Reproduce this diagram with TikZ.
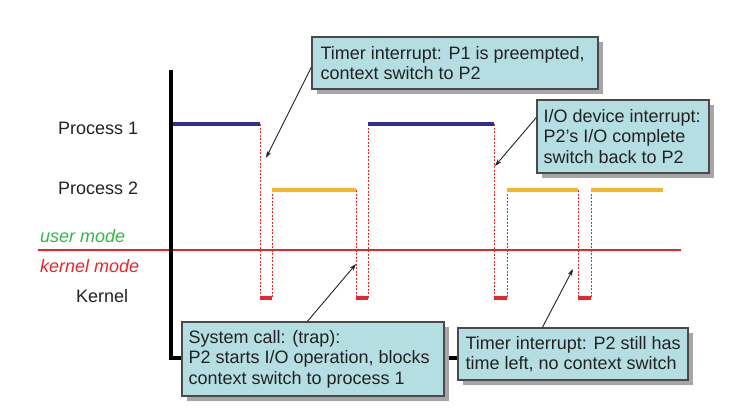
\documentclass[tikz,border=0pt]{standalone}
\usepackage{fontspec}
\setmainfont{Liberation Sans}
\usetikzlibrary{shadows,arrows.meta}
\definecolor{boxfill}{HTML}{B4DEE2}
\definecolor{boxdraw}{HTML}{4A4A4A}
\definecolor{procblue}{HTML}{2E3192}
\definecolor{procorange}{HTML}{F6B52B}
\definecolor{modered}{HTML}{E8262A}
\definecolor{modegreen}{HTML}{35B54A}
\definecolor{txt}{HTML}{222222}
\begin{document}
\begin{tikzpicture}[x=1pt,y=-1pt,
  infobox/.style={draw=boxdraw, line width=1.2pt, fill=boxfill, inner sep=0pt,
    drop shadow={shadow xshift=5pt, shadow yshift=-5pt, fill=black!35, opacity=1}},
  boxtext/.style={inner sep=0pt, align=left, text=txt, font=\fontsize{18pt}{20.5pt}\selectfont},
  lbl/.style={inner sep=0pt, anchor=base west, font=\fontsize{18pt}{20pt}\selectfont},
  callout/.style={draw=txt, line width=0.9pt, -{Stealth[length=7pt,width=4.5pt]}},
  axisline/.style={draw=black, line width=3.2pt},
  p1line/.style={draw=procblue, line width=3.2pt},
  p2line/.style={draw=procorange, line width=3.2pt},
  kline/.style={draw=modered, line width=3.2pt},
  switchline/.style={draw=modered, line width=0.8pt, dash pattern=on 2pt off 1.5pt},
  modeline/.style={draw=modered, line width=1.4pt}
]
\useasboundingbox (0,0) rectangle (733,415);

% labels
\node[lbl, text=txt] (lp1) at (58,134) {Process 1};
\node[lbl, text=txt] (lp2) at (58,194) {Process 2};
\node[lbl, text=modegreen, font=\fontsize{18pt}{20pt}\selectfont\itshape] (lum) at (40,242) {user mode};
\node[lbl, text=modered, font=\fontsize{18pt}{20pt}\selectfont\itshape] (lkm) at (40,272) {kernel mode};
\node[lbl, text=txt] (lk) at (76,302) {Kernel};

% mode line
\draw[modeline] (38,250) -- (681,250);

% switch dashed lines
\foreach \x/\y in {260/124, 272/190, 356/190, 368/124, 494/124, 507/190, 578/190, 591/190}
  \draw[switchline] (\x,\y) -- (\x,298);

% kernel segments
\foreach \a/\b in {260/272, 356/368, 494/507, 578/591}
  \draw[kline] (\a,298) -- (\b,298);

% process lines
\draw[p1line] (171,124) -- (260,124);
\draw[p1line] (368,124) -- (494,124);
\draw[p2line] (272,190) -- (356,190);
\draw[p2line] (507,190) -- (578,190);
\draw[p2line] (591,190) -- (663,190);

% axis
\draw[axisline] (171,70) -- (171,358) -- (458,358);

% boxes
\node[infobox, minimum width=286pt, minimum height=52pt] (b1) at (455,63) {};
\node[boxtext, anchor=west] (b1t) at ([xshift=9pt]b1.west) {Timer interrupt: P1 is preempted,\\context switch to P2};

\node[infobox, minimum width=172pt, minimum height=73pt] (b2) at (623,136.5) {};
\node[boxtext, anchor=west] (b2t) at ([xshift=7pt]b2.west) {I/O device interrupt:\\P2’s I/O complete\\switch back to P2};

\node[infobox, minimum width=262pt, minimum height=74pt] (b3) at (313,359) {};
\node[boxtext, anchor=west] (b3t) at ([xshift=7pt]b3.west) {System call: (trap):\\P2 starts I/O operation, blocks\\context switch to process 1};

\node[infobox, minimum width=230pt, minimum height=52pt] (b4) at (573,354) {};
\node[boxtext, anchor=west] (b4t) at ([xshift=8pt]b4.west) {Timer interrupt: P2 still has\\time left, no context switch};

% callout arrows
\coordinate (t1) at (266,158);
\coordinate (t2) at (495,166);
\coordinate (t3) at (356,264);
\coordinate (t4) at (573,269);
\draw[callout] ([yshift=-4pt]b1.west) -- (t1);
\draw[callout] ([yshift=-18pt]b2.north west) -- (t2);
\draw[callout] ([xshift=126pt]b3.north west) -- (t3);
\draw[callout] ([xshift=85pt]b4.north west) -- (t4);
\end{tikzpicture}
\end{document}
